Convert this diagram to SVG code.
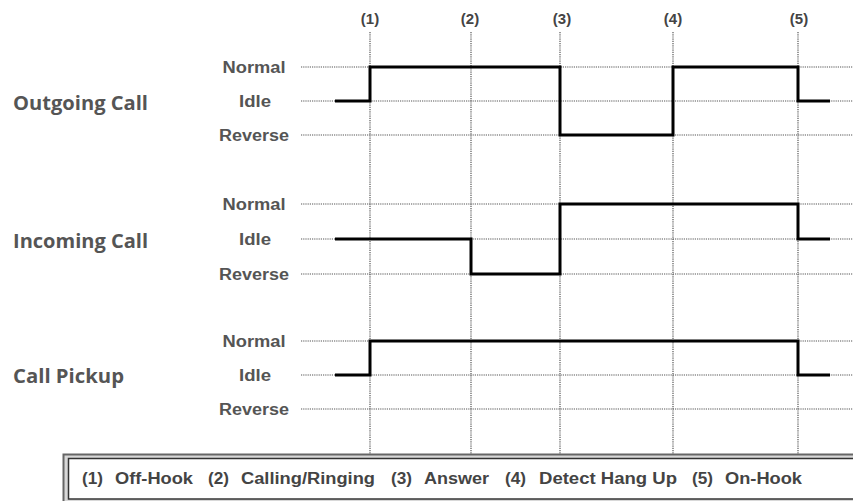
<svg xmlns="http://www.w3.org/2000/svg" width="853" height="501" viewBox="0 0 853 501">
  <style>
    .grid { stroke: #555; stroke-width: 1.2; stroke-dasharray: 1.2 1; fill: none; }
    .sig { stroke: #000; stroke-width: 3; fill: none; stroke-linejoin: miter; stroke-linecap: butt; }
    .group { font-family: "Open Sans", "DejaVu Sans", sans-serif; font-weight: 700; font-size: 20px; fill: #555; }
    .lvl { font-family: "Liberation Sans", Arial, sans-serif; font-weight: 700; font-size: 16px; fill: #555; text-anchor: middle; }
    .evt { font-family: "Liberation Sans", Arial, sans-serif; font-weight: 700; font-size: 15px; fill: #444; text-anchor: middle; }
    .leg { font-family: "Liberation Sans", Arial, sans-serif; font-weight: 700; font-size: 16px; fill: #444; }
  </style>

  <rect width="853" height="501" fill="#fff"/>

  <!-- event markers along the top -->
  <g id="events">
    <text class="evt" x="370" y="24">(1)</text>
    <text class="evt" x="470" y="24">(2)</text>
    <text class="evt" x="562" y="24">(3)</text>
    <text class="evt" x="673" y="24">(4)</text>
    <text class="evt" x="799" y="24">(5)</text>
  </g>

  <!-- timing grid and signal traces -->
  <g id="connectors">
    <!-- vertical event guides -->
    <path class="grid" d="M370,32 V454 M471,32 V454 M560,32 V454 M673,32 V454 M798,32 V454"/>
    <!-- level guides -->
    <path class="grid" d="M301,67 H853 M301,101 H853 M301,135 H853"/>
    <path class="grid" d="M301,204 H853 M301,239 H853 M301,274 H853"/>
    <path class="grid" d="M301,341 H853 M301,375 H853 M301,409 H853"/>
    <!-- signal traces -->
    <path class="sig" d="M335,101 H370 V67 H560 V135 H673 V67 H798 V101 H830"/>
    <path class="sig" d="M335,239 H471 V274 H560 V204 H798 V239 H830"/>
    <path class="sig" d="M335,375 H370 V341 H798 V375 H830"/>
  </g>

  <g id="outgoing">
    <text class="group" x="13" y="110" textLength="135" lengthAdjust="spacingAndGlyphs">Outgoing Call</text>
    <text class="lvl" x="254" y="73" textLength="63" lengthAdjust="spacingAndGlyphs">Normal</text>
    <text class="lvl" x="255" y="107" textLength="32" lengthAdjust="spacingAndGlyphs">Idle</text>
    <text class="lvl" x="254" y="141" textLength="70" lengthAdjust="spacingAndGlyphs">Reverse</text>
  </g>

  <g id="incoming">
    <text class="group" x="13" y="248" textLength="135" lengthAdjust="spacingAndGlyphs">Incoming Call</text>
    <text class="lvl" x="254" y="210" textLength="63" lengthAdjust="spacingAndGlyphs">Normal</text>
    <text class="lvl" x="255" y="245" textLength="32" lengthAdjust="spacingAndGlyphs">Idle</text>
    <text class="lvl" x="254" y="280" textLength="70" lengthAdjust="spacingAndGlyphs">Reverse</text>
  </g>

  <g id="pickup">
    <text class="group" x="13" y="383" textLength="111" lengthAdjust="spacingAndGlyphs">Call Pickup</text>
    <text class="lvl" x="254" y="347" textLength="63" lengthAdjust="spacingAndGlyphs">Normal</text>
    <text class="lvl" x="255" y="381" textLength="32" lengthAdjust="spacingAndGlyphs">Idle</text>
    <text class="lvl" x="254" y="415" textLength="70" lengthAdjust="spacingAndGlyphs">Reverse</text>
  </g>

  <!-- legend box with double border -->
  <g id="legend">
    <rect x="63.5" y="454.5" width="810" height="60" fill="#d8d8d8" stroke="#666" stroke-width="2"/>
    <rect x="68.5" y="458.5" width="810" height="40.5" fill="#fff" stroke="#333" stroke-width="1.5"/>
    <text class="leg" x="82" y="484" textLength="21" lengthAdjust="spacingAndGlyphs">(1)</text>
    <text class="leg" x="115" y="484" textLength="78" lengthAdjust="spacingAndGlyphs">Off-Hook</text>
    <text class="leg" x="208" y="484" textLength="21" lengthAdjust="spacingAndGlyphs">(2)</text>
    <text class="leg" x="241" y="484" textLength="134" lengthAdjust="spacingAndGlyphs">Calling/Ringing</text>
    <text class="leg" x="391" y="484" textLength="21" lengthAdjust="spacingAndGlyphs">(3)</text>
    <text class="leg" x="424" y="484" textLength="65" lengthAdjust="spacingAndGlyphs">Answer</text>
    <text class="leg" x="505" y="484" textLength="21" lengthAdjust="spacingAndGlyphs">(4)</text>
    <text class="leg" x="539" y="484" textLength="138" lengthAdjust="spacingAndGlyphs">Detect Hang Up</text>
    <text class="leg" x="692" y="484" textLength="21" lengthAdjust="spacingAndGlyphs">(5)</text>
    <text class="leg" x="725" y="484" textLength="77" lengthAdjust="spacingAndGlyphs">On-Hook</text>
  </g>
</svg>
